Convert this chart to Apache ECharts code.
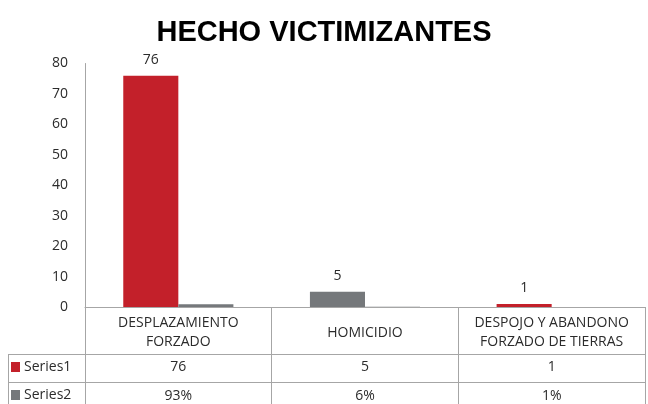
<!DOCTYPE html>
<html><head><meta charset="utf-8">
<script src="https://cdn.jsdelivr.net/npm/echarts@6/dist/echarts.min.js"></script>
<style>html,body{margin:0;padding:0;background:#fff}#c{width:648px;height:404px}</style>
</head><body><div id="c"></div>
<script>
const title = 'HECHO VICTIMIZANTES';
const categories = ['DESPLAZAMIENTO\nFORZADO', 'HOMICIDIO', 'DESPOJO Y ABANDONO\nFORZADO DE TIERRAS'];
const series1 = [76, 5, 1];
const series2 = [0.93, 0.06, 0.01];
const series1Labels = ['76', '5', '1'];
const series2Labels = ['93%', '6%', '1%'];
const yTicks = [0, 10, 20, 30, 40, 50, 60, 70, 80];

const RED = '#C3202A', GRAY = '#75787B', LINE = '#A6A6A6', TXT = '#2b2b2b';
const FONT = '"Open Sans", "Liberation Sans", sans-serif';
const FS = 14;
const chart = echarts.init(document.getElementById('c'));
const gridL = 85, gridR = 3, gridT = 63.5, gridB = 97;

function tableAxis(labels, offset, tickLen, margin) {
  return {
    type: 'category', data: labels, position: 'bottom', offset: offset,
    axisLine: { show: true, lineStyle: { color: LINE, width: 1 } },
    axisTick: { show: true, length: tickLen, interval: 0, lineStyle: { color: LINE } },
    axisLabel: { interval: 0, margin: margin, color: TXT, fontSize: FS, fontFamily: FONT }
  };
}
function legendRow(name, top) {
  return { orient: 'horizontal', left: 11, top: top, padding: 0, itemWidth: 9, itemHeight: 10, icon: 'rect',
    itemGap: 0, textStyle: { fontSize: FS, color: TXT, fontFamily: FONT, padding: [0, 0, 0, -1] }, data: [name] };
}

chart.setOption({
  animation: false,
  title: { text: title, left: 'center', top: 13,
    textStyle: { fontSize: 29, fontWeight: 'bold', color: '#000', fontFamily: '"Liberation Sans", sans-serif' } },
  legend: [legendRow('Series1', 360), legendRow('Series2', 388)],
  grid: { left: gridL, right: gridR, top: gridT, bottom: gridB, containLabel: false },
  xAxis: [
    Object.assign(tableAxis(categories, 0, 47, 7), {
      axisLabel: { interval: 0, margin: 7, color: TXT, fontSize: FS, lineHeight: 19, fontFamily: FONT,
        formatter: v => v.indexOf('\n') >= 0 ? v : '{s|' + v + '}',
        rich: { s: { lineHeight: 38, fontSize: FS, fontFamily: FONT, color: TXT } } } }),
    tableAxis(series1Labels, 47, 28, 6),
    tableAxis(series2Labels, 75, 30, 7)
  ],
  yAxis: { type: 'value', min: yTicks[0], max: yTicks[yTicks.length - 1], interval: 10,
    axisLine: { show: true, lineStyle: { color: LINE } }, axisTick: { show: false },
    splitLine: { show: false },
    axisLabel: { margin: 17, color: TXT, fontSize: FS, fontFamily: FONT } },
  series: [
    { name: 'Series1', type: 'bar', xAxisIndex: 0, data: series1.map((v, i) => i === 1 ? { value: v, itemStyle: { color: GRAY } } : v),
      itemStyle: { color: RED }, barGap: '0%', barCategoryGap: '41%',
      label: { show: true, position: 'top', distance: 9, color: TXT, fontSize: FS, fontFamily: FONT } },
    { name: 'Series2', type: 'bar', xAxisIndex: 0, data: series2, itemStyle: { color: GRAY }, barGap: '0%', barCategoryGap: '41%' }
  ],
  graphic: [
    { type: 'line', shape: { x1: 8.5, y1: 354.5, x2: 8.5, y2: 404 }, style: { stroke: LINE, lineWidth: 1 } },
    { type: 'line', shape: { x1: 8, y1: 354.5, x2: gridL, y2: 354.5 }, style: { stroke: LINE, lineWidth: 1 } },
    { type: 'line', shape: { x1: 8, y1: 382.5, x2: gridL, y2: 382.5 }, style: { stroke: LINE, lineWidth: 1 } }
  ]
});
</script></body></html>
